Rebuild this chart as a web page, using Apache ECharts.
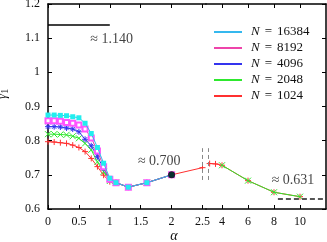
<!DOCTYPE html>
<html><head><meta charset="utf-8">
<script src="https://cdn.jsdelivr.net/npm/echarts@6/dist/echarts.min.js"></script>
<style>html,body{margin:0;padding:0;background:#fff}#c{width:327px;height:242px}</style>
</head><body><div id="c"></div>
<script>
// ---- data ----
const alphaLeft = [0, 0.1, 0.2, 0.3, 0.4, 0.5, 0.6, 0.7, 0.8, 0.9, 1.0, 1.1, 1.3, 1.6, 2.0];
const n16384 = [0.875, 0.875, 0.874, 0.873, 0.870, 0.867, 0.851, 0.821, 0.780, 0.734, 0.690, 0.677, 0.664, 0.677, 0.700];
const n8192  = [0.858, 0.858, 0.857, 0.853, 0.851, 0.846, 0.834, 0.808, 0.770, 0.724, 0.687, 0.677, 0.664, 0.677, 0.700];
const n4096  = [0.841, 0.841, 0.840, 0.837, 0.834, 0.826, 0.804, 0.785, 0.753, 0.719, 0.685, 0.677, 0.664, 0.677, 0.700];
const n2048  = [0.819, 0.819, 0.818, 0.817, 0.813, 0.807, 0.792, 0.773, 0.738, 0.709, 0.682, 0.677, 0.664, 0.677, 0.700];
const n1024  = [0.797, 0.796, 0.794, 0.792, 0.787, 0.780, 0.768, 0.748, 0.724, 0.699, 0.680, 0.677, 0.664, 0.677, 0.700];
const alphaLeftExtra1024 = [2.5];
const n1024LeftExtra = [0.721];
const alphaRight1024 = [3.05, 3.5, 4, 6, 8, 10];
const n1024Right = [0.733, 0.732, 0.728, 0.683, 0.649, 0.636];
const alphaRight2048 = [4, 6, 8, 10];
const n2048Right = [0.728, 0.683, 0.649, 0.636];
const dotAlpha = [2.0];
const dotValue = [0.700];
const sizes = [16384, 8192, 4096, 2048, 1024];
const refLevels = [1.140, 0.700, 0.631];
const xTicksLeft = [0, 0.5, 1, 1.5, 2, 2.5];
const xTicksRight = [4, 6, 8, 10];
const yTicks = [0.6, 0.7, 0.8, 0.9, 1, 1.1, 1.2];

// ---- styles ----
const FONT = 'Liberation Serif';
const colors = {16384: '#35b8ee', 8192: '#ee44aa', 4096: '#3434ee', 2048: '#2ee82e', 1024: '#ff3030'};
const markerColors = {16384: '#22eeee', 8192: '#ff55ff', 4096: '#3434ee', 2048: '#2ee82e', 1024: '#ff3030'};
const PLUS = 'path://M0,5L10,5M5,0L5,10';
const CROSS = 'path://M0,0L10,10M0,10L10,0';
const STAR = 'path://M0,5L10,5M5,0L5,10M1.5,1.5L8.5,8.5M1.5,8.5L8.5,1.5';
const symbols = {16384: 'rect', 8192: 'emptyRect', 4096: STAR, 2048: CROSS, 1024: PLUS};
const symSize = {16384: 5, 8192: 5, 4096: 6, 2048: 6, 1024: 6};
const zip = (xs, ys) => xs.map((x, i) => [x, ys[i]]);
const nm = n => 'N = ' + n;

function lineSeries(n, data, gi, z, extra) {
  const s = {
    type: 'line', name: nm(n), data: data,
    xAxisIndex: gi === 0 ? 0 : 2, yAxisIndex: gi,
    symbol: symbols[n], symbolSize: symSize[n], showSymbol: true,
    lineStyle: {color: colors[n], width: 1},
    itemStyle: {color: markerColors[n], borderColor: markerColors[n], borderWidth: (n === 16384) ? 0 : 1},
    z: z, silent: true, animation: false, clip: true
  };
  return Object.assign(s, extra || {});
}

const series = [];
// drawing order: 1024 first (bottom) ... 16384 last (top)
series.push(lineSeries(1024, zip(alphaLeft.concat(alphaLeftExtra1024), n1024.concat(n1024LeftExtra)), 0, 2, {
  markLine: {
    silent: true, symbol: ['none', 'none'], label: {show: false}, animation: false,
    data: [
      [{coord: [0, refLevels[0]], lineStyle: {color: '#000', width: 1.5, type: 'solid'}}, {coord: [1, refLevels[0]]}],
      [{coord: [2.5, 0.685], lineStyle: {color: '#888', width: 1, type: [4, 3]}}, {coord: [2.5, 0.778]}]
    ]
  }
}));
series.push(lineSeries(2048, zip(alphaLeft, n2048), 0, 3));
series.push(lineSeries(4096, zip(alphaLeft, n4096), 0, 4));
series.push(lineSeries(8192, zip(alphaLeft, n8192), 0, 5));
series.push(lineSeries(16384, zip(alphaLeft, n16384), 0, 6));
series.push(lineSeries(1024, zip(alphaRight1024, n1024Right), 1, 2, {
  markLine: {
    silent: true, symbol: ['none', 'none'], label: {show: false}, animation: false,
    data: [
      [{coord: [8.3, refLevels[2]], lineStyle: {color: '#555', width: 2, type: [5, 3]}}, {coord: [12, refLevels[2]]}],
      [{coord: [2.95, 0.685], lineStyle: {color: '#888', width: 1, type: [4, 3]}}, {coord: [2.95, 0.778]}]
    ]
  }
}));
series.push(lineSeries(2048, zip(alphaRight2048, n2048Right), 1, 3));
series.push({type: 'scatter', data: zip(dotAlpha, dotValue), xAxisIndex: 0, yAxisIndex: 0,
  symbol: 'circle', symbolSize: 7, itemStyle: {color: '#000'}, z: 10, silent: true, animation: false});

// annotations
const annoStyle = {show: true, position: 'inside', fontFamily: FONT, fontSize: 14, color: '#111'};
const fmt = v => '\u2248 ' + v.toFixed(3);
series.push({type: 'scatter', xAxisIndex: 0, yAxisIndex: 0, symbolSize: 1, itemStyle: {color: 'rgba(0,0,0,0)'},
  silent: true, animation: false, z: 11,
  data: [
    {value: [1.03, 1.0975], label: Object.assign({}, annoStyle, {formatter: fmt(refLevels[0])})},
    {value: [1.80, 0.739], label: Object.assign({}, annoStyle, {formatter: fmt(refLevels[1])})}
  ]});
series.push({type: 'scatter', xAxisIndex: 2, yAxisIndex: 1, symbolSize: 1, itemStyle: {color: 'rgba(0,0,0,0)'},
  silent: true, animation: false, z: 11,
  data: [
    {value: [9.46, 0.685], label: Object.assign({}, annoStyle, {formatter: fmt(refLevels[2])})}
  ]});

const axisLine = {show: true, onZero: false, lineStyle: {color: '#000', width: 1.5}};
const tickIn = {show: true, inside: true, length: 4, lineStyle: {color: '#000', width: 1}};
const lab = {fontFamily: FONT, fontSize: 12, color: '#111'};

function xAx(gi, pos, min, max, ticks, showLabel) {
  return {
    type: 'value', gridIndex: gi, position: pos, min: min, max: max,
    axisLine: axisLine, splitLine: {show: false},
    axisTick: Object.assign({}, tickIn, {customValues: ticks}),
    axisLabel: Object.assign({}, lab, {show: showLabel, margin: 7, customValues: ticks, formatter: v => String(v)})
  };
}

const option = {
  animation: false,
  backgroundColor: '#fff',
  grid: [
    {left: 48, top: 4, width: 158, height: 205, containLabel: false, outerBoundsMode: 'none'},
    {left: 206, top: 4, width: 120, height: 205, containLabel: false, outerBoundsMode: 'none'}
  ],
  xAxis: [
    xAx(0, 'bottom', 0, 158 / 61.8, xTicksLeft, true),
    xAx(0, 'top', 0, 158 / 61.8, xTicksLeft, false),
    xAx(1, 'bottom', 12 - 120 / 13, 12, xTicksRight, true),
    xAx(1, 'top', 12 - 120 / 13, 12, xTicksRight, false)
  ],
  yAxis: [
    {type: 'value', gridIndex: 0, position: 'left', min: 0.6, max: 1.2,
     name: '{g|\u03b3}{s|1}', nameLocation: 'middle', nameRotate: 90, nameGap: 38,
     nameTextStyle: {
       padding: [0, 0, 0, 25],
       rich: {
         g: {fontFamily: FONT, fontSize: 14, fontStyle: 'italic', color: '#111', lineHeight: 16},
         s: {fontFamily: FONT, fontSize: 10, color: '#111', lineHeight: 16, verticalAlign: 'bottom', padding: [5, 0, 0, 0]}
       }
     },
     axisLine: axisLine, splitLine: {show: false},
     axisTick: Object.assign({}, tickIn, {customValues: yTicks}),
     axisLabel: Object.assign({}, lab, {margin: 8, customValues: yTicks, formatter: v => String(+v.toFixed(1))})},
    {type: 'value', gridIndex: 1, position: 'right', min: 0.6, max: 1.2,
     axisLine: axisLine, splitLine: {show: false},
     axisTick: Object.assign({}, tickIn, {customValues: yTicks}),
     axisLabel: {show: false}}
  ],
  legend: {
    orient: 'vertical', left: 214, top: 24, padding: 0,
    itemWidth: 28, itemHeight: 2, itemGap: 0, icon: 'rect',
    selectedMode: false,
    itemStyle: {borderWidth: 0},
    data: sizes.map(n => ({name: nm(n), icon: 'rect', itemStyle: {color: colors[n], borderWidth: 0}})),
    formatter: name => '{s| }{i|N}{e|=}{d|' + name.split('= ')[1] + '}',
    textStyle: {
      fontFamily: FONT, fontSize: 13, color: '#111', lineHeight: 16,
      rich: {
        s: {fontFamily: FONT, fontSize: 13, lineHeight: 16, width: 4},
        i: {fontFamily: FONT, fontSize: 13, fontStyle: 'italic', lineHeight: 16},
        e: {fontFamily: FONT, fontSize: 13, lineHeight: 16, padding: [0, 5, 0, 5]},
        d: {fontFamily: FONT, fontSize: 13, lineHeight: 16}
      }
    }
  },
  graphic: [
    {type: 'text', x: 174, y: 236, silent: true,
     style: {text: '\u03b1', align: 'center', verticalAlign: 'middle', fontFamily: FONT, fontSize: 14, fontStyle: 'italic', fill: '#111'}}
  ],
  series: series
};

const chart = echarts.init(document.getElementById('c'), null, {renderer: 'canvas'});
chart.setOption(option);
</script>
</body></html>
